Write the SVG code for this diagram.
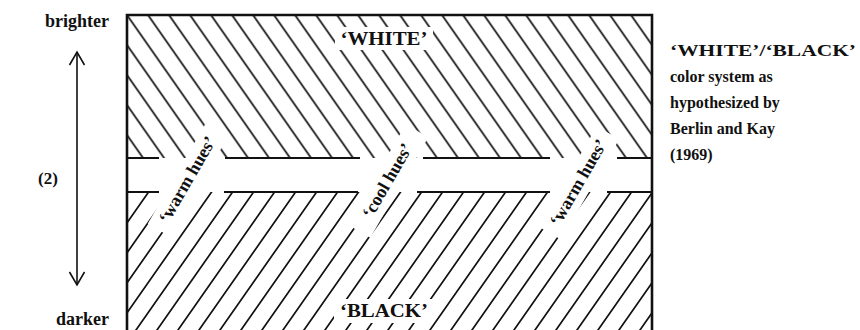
<svg xmlns="http://www.w3.org/2000/svg" width="860" height="330" viewBox="0 0 860 330">
<style>
.lbl{font-family:"Liberation Serif","Times New Roman",serif;font-weight:bold;fill:#111}
.hl{stroke:#111;stroke-width:2.2;fill:none}
.mask{fill:#fff}
</style>
<defs>
<pattern id="hatchDown" patternUnits="userSpaceOnUse" x="11.5" y="0" width="21" height="30">
<path d="M-3,-4.29 L24,34.29 M18,-4.29 L24,4.29 M-3,25.71 L3,34.29" stroke="#111" stroke-width="1.7" fill="none"/>
</pattern>
<pattern id="hatchUp" patternUnits="userSpaceOnUse" x="10" y="0" width="21" height="30">
<path d="M-3,34.29 L24,-4.29 M-3,4.29 L3,-4.29 M18,34.29 L24,25.71" stroke="#111" stroke-width="1.7" fill="none"/>
</pattern>
<marker id="arr" markerUnits="userSpaceOnUse" markerWidth="20" markerHeight="20" refX="0" refY="0" orient="auto-start-reverse" overflow="visible">
<path d="M-13,-7.5 L0,0 L-13,7.5" stroke="#111" stroke-width="1.6" fill="none"/>
</marker>
</defs>

<g id="box">
<rect x="127" y="15" width="525" height="143" fill="url(#hatchDown)"/>
<rect x="127" y="192" width="525" height="138" fill="url(#hatchUp)"/>
<rect class="mask" x="127" y="158" width="525" height="34"/>
<rect class="mask" x="335" y="27" width="98" height="23"/>
<rect class="mask" x="334" y="299" width="100" height="24"/>
<rect class="mask" x="-58" y="-13" width="116" height="26" transform="translate(188,180) rotate(-60)"/>
<rect class="mask" x="-58" y="-13" width="116" height="26" transform="translate(388,181) rotate(-60)"/>
<rect class="mask" x="-58" y="-13" width="116" height="26" transform="translate(579,183) rotate(-60)"/>
<path class="hl" d="M127,158 H159 M225,158 H360 M423,158 H550 M617,158 H652 M127,192 H159 M224,192 H358 M417,192 H550 M607,192 H652"/>
<path d="M127,330 V15 H652 V330" stroke="#111" stroke-width="2.6" fill="none"/>
</g>

<g id="white-label"><text class="lbl" x="384" y="45" font-size="18" text-anchor="middle" textLength="87" lengthAdjust="spacingAndGlyphs">‘WHITE’</text></g>
<g id="black-label"><text class="lbl" x="384" y="317" font-size="18" text-anchor="middle" textLength="88" lengthAdjust="spacingAndGlyphs">‘BLACK’</text></g>

<g id="warm-hues-1"><text class="lbl" font-size="18" text-anchor="middle" transform="translate(188,180) rotate(-60)" y="5">‘warm hues’</text></g>
<g id="cool-hues"><text class="lbl" font-size="18" text-anchor="middle" transform="translate(388,181) rotate(-60)" y="5">‘cool hues’</text></g>
<g id="warm-hues-2"><text class="lbl" font-size="18" text-anchor="middle" transform="translate(579,183) rotate(-60)" y="5">‘warm hues’</text></g>

<g id="axis">
<text class="lbl" x="109" y="27" font-size="18" text-anchor="end">brighter</text>
<text class="lbl" x="109" y="325" font-size="18" text-anchor="end">darker</text>
<text class="lbl" x="38" y="184" font-size="17">(2)</text>
</g>
<g id="connectors">
<line x1="77" y1="52" x2="77" y2="285" stroke="#111" stroke-width="1.6" marker-start="url(#arr)" marker-end="url(#arr)"/>
</g>

<g id="caption">
<text class="lbl" x="670" y="56" font-size="17" textLength="186" lengthAdjust="spacingAndGlyphs">‘WHITE’/‘BLACK’</text>
<text class="lbl" x="670" y="82" font-size="16">color system as</text>
<text class="lbl" x="670" y="108" font-size="16">hypothesized by</text>
<text class="lbl" x="670" y="134" font-size="16">Berlin and Kay</text>
<text class="lbl" x="670" y="160" font-size="16">(1969)</text>
</g>
</svg>
